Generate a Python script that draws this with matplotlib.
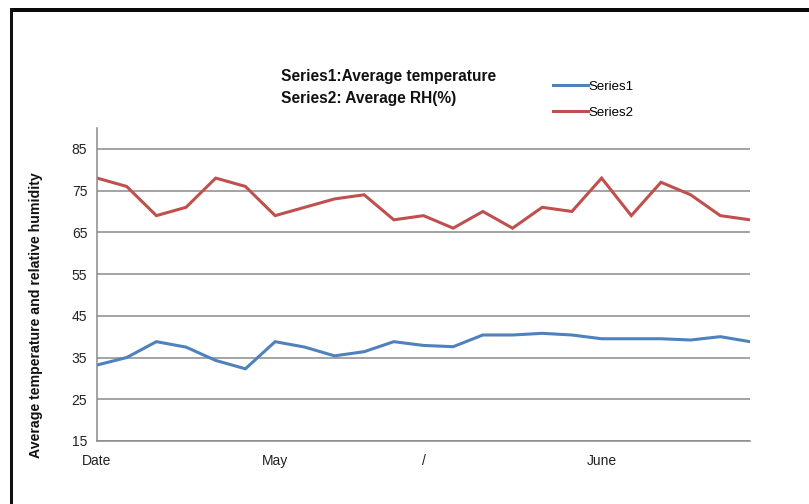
import matplotlib
matplotlib.use("Agg")
import matplotlib.pyplot as plt
from matplotlib.lines import Line2D
from matplotlib.patches import Rectangle

# Data
series1 = [33.2, 35.0, 38.8, 37.5, 34.3, 32.3, 38.8, 37.5, 35.4, 36.4, 38.8, 37.9,
           37.6, 40.4, 40.4, 40.8, 40.4, 39.5, 39.5, 39.5, 39.2, 40.0, 38.8]
series2 = [78, 76, 69, 71, 78, 76, 69, 71, 73, 74, 68, 69,
           66, 70, 66, 71, 70, 78, 69, 77, 74, 69, 68]
tick_positions = [0, 6, 11, 17]
tick_labels = ["Date", "May", "/", "June"]
y_ticks = [15, 25, 35, 45, 55, 65, 75, 85]
series_names = ["Series1", "Series2"]
title_lines = ["Series1:Average temperature", "Series2: Average RH(%)"]
y_label = "Average temperature and relative humidity"

FONT = ["Liberation Sans Narrow", "Liberation Sans", "DejaVu Sans"]
plt.rcParams['font.family'] = FONT

W, H = 809, 504
fig = plt.figure(figsize=(W / 100, H / 100), dpi=100)
fig.patch.set_facecolor("white")

# Border (screenshot frame)
fig.add_artist(Rectangle((10 / W, 1 - 12 / H), 1 - 10 / W, 4 / H, transform=fig.transFigure,
                         facecolor="#0a0a0a", edgecolor="none"))
fig.add_artist(Rectangle((10 / W, 0), 3 / W, 1 - 8 / H, transform=fig.transFigure,
                         facecolor="#111111", edgecolor="none"))

ax = fig.add_axes([97 / W, 63 / H, (750 - 97) / W, (441 - 128) / H])
x = list(range(len(series1)))
blue = "#4F81BD"
red = "#C0504D"
ax.plot(x, series1, color=blue, lw=2.2, solid_joinstyle="miter")
ax.plot(x, series2, color=red, lw=2.2, solid_joinstyle="miter")

ax.set_xlim(0, len(series1) - 1)
ax.set_ylim(15, 90)
ax.set_yticks(y_ticks)
ax.set_yticklabels([str(v) for v in y_ticks], fontsize=10, color="#222222")
ax.set_xticks(tick_positions)
ax.set_xticklabels(tick_labels, fontsize=10, color="#222222")
ax.tick_params(axis="both", length=0)
ax.tick_params(axis="y", pad=7)
ax.tick_params(axis="x", pad=9.5)
ax.yaxis.grid(True, color="#8a8a8a", lw=1.1)
ax.set_axisbelow(True)
for s in ["top", "right"]:
    ax.spines[s].set_visible(False)
ax.spines["left"].set_color("#8a8a8a")
ax.spines["bottom"].set_color("#8a8a8a")
ax.spines["left"].set_linewidth(1.1)
ax.spines["bottom"].set_linewidth(1.1)

fig.text(36 / W, 1 - 315 / H, y_label, rotation=90, ha="center", va="center",
         fontsize=10.2, fontweight="bold", color="#111111")

fig.text(281 / W, 1 - 77 / H, title_lines[0], ha="left", va="center",
         fontsize=11.2, fontweight="bold", color="#111111")
fig.text(281 / W, 1 - 99 / H, title_lines[1], ha="left", va="center",
         fontsize=11.2, fontweight="bold", color="#111111")

handles = [Line2D([], [], color=blue, lw=2.2), Line2D([], [], color=red, lw=2.2)]
leg = fig.legend(handles, series_names, loc="upper left",
                 bbox_to_anchor=(548 / W, 1 - 75 / H), frameon=False,
                 fontsize=9.5, handlelength=2.6, handletextpad=0.1,
                 labelspacing=1.05, borderaxespad=0)

fig.savefig("out.png", dpi=100, facecolor="white")
